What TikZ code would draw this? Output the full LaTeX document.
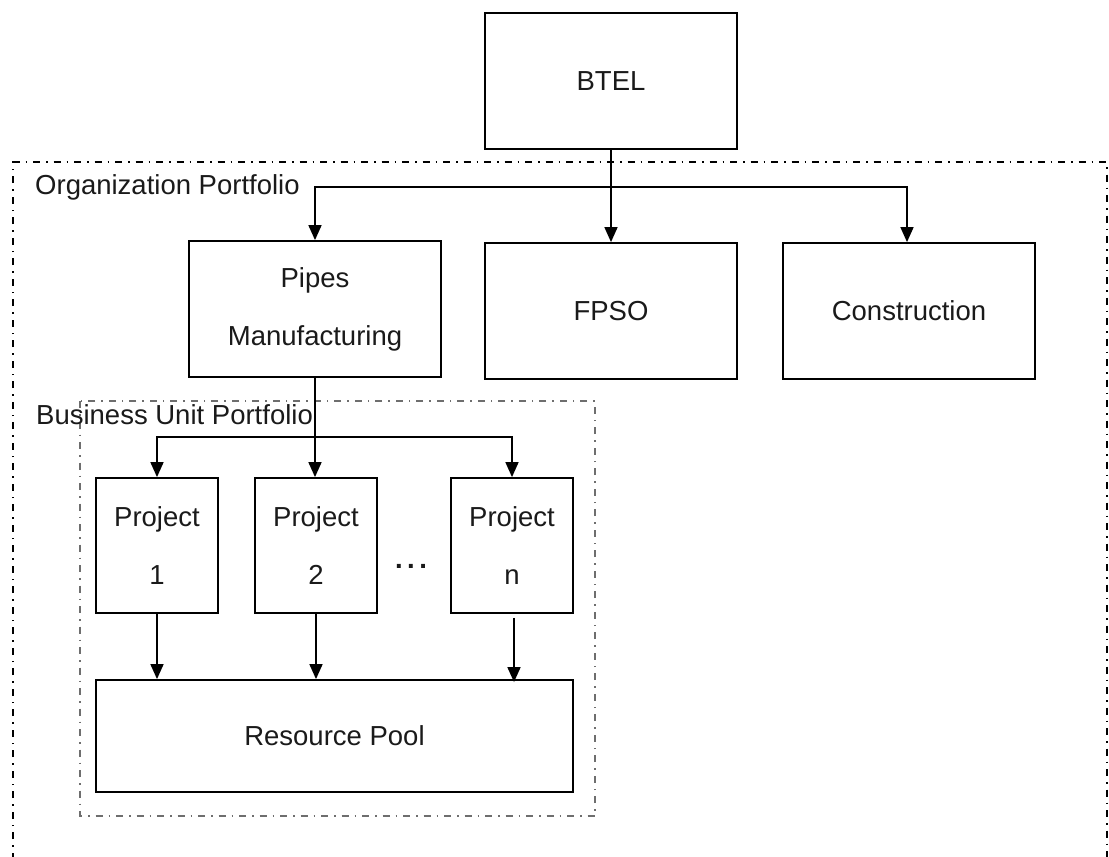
\documentclass[tikz,border=0pt]{standalone}
\usepackage{fontspec}
\setmainfont{Liberation Sans}
\usetikzlibrary{arrows.meta}
\definecolor{txt}{HTML}{1A1A1A}
\definecolor{bugray}{HTML}{6E6E6E}
\tikzset{
  box/.style={draw=black, line width=1.8pt, inner sep=0pt, align=center,
    text=txt, font=\fontsize{27.5}{58}\selectfont},
  lbl/.style={inner sep=0pt, anchor=west, text=txt, font=\fontsize{27.5}{33}\selectfont},
  arr/.style={line width=1.6pt, -{Triangle[length=15pt,width=13pt]}},
  ln/.style={line width=1.6pt},
  outerdash/.style={draw=black, line width=1.5pt, dash pattern=on 7pt off 6pt on 1.5pt off 6pt},
  innerdash/.style={draw=bugray, line width=1.5pt, dash pattern=on 7pt off 6pt on 1.5pt off 6pt}
}
\begin{document}
\begin{tikzpicture}[x=1pt,y=1pt]
\useasboundingbox (0,0) rectangle (1109,-857);
\fill[white] (0,0) rectangle (1109,-857);
% portfolios
\draw[outerdash] (13,-880) -- (13,-162) -- (1107,-162) -- (1107,-880);
\draw[innerdash] (80,-401) rectangle (595,-816);
\node[lbl] (orglbl) at (35,-187) {Organization Portfolio};
\node[lbl] (bulbl) at (36,-415) {Business Unit Portfolio};
% boxes
\node[box, minimum width=252pt, minimum height=136pt] (btel) at (611,-81) {BTEL};
\node[box, minimum width=252pt, minimum height=136pt] (pipes) at (315,-309) {Pipes\\Manufacturing};
\node[box, minimum width=252pt, minimum height=136pt] (fpso) at (611,-311) {FPSO};
\node[box, minimum width=252pt, minimum height=136pt] (cons) at (909,-311) {Construction};
\node[box, minimum width=122pt, minimum height=135pt] (p1) at (157,-545.5) {Project\\1};
\node[box, minimum width=122pt, minimum height=135pt] (p2) at (316,-545.5) {Project\\2};
\node[box, minimum width=122pt, minimum height=135pt] (pn) at (512,-545.5) {Project\\n};
\node[box, minimum width=477pt, minimum height=112pt] (rp) at (334.5,-736) {Resource Pool};
\node[inner sep=0pt, text=txt, font=\fontsize{27.5}{33}\selectfont\bfseries] (dots) at (411,-566) {.\hspace{4.5pt}.\hspace{4.5pt}.};
% connectors
\coordinate (bar) at (0,-187);
\coordinate (bar2) at (0,-437);
\draw[arr] (btel.south) -- (fpso.north);
\draw[arr] (btel.south |- bar) -| (pipes.north);
\draw[arr] (btel.south |- bar) -| ([xshift=-2pt]cons.north);
\draw[arr] (pipes.south) -- (pipes.south |- p2.north);
\draw[arr] (pipes.south |- bar2) -| (p1.north);
\draw[arr] (pipes.south |- bar2) -| (pn.north);
\draw[arr] (p1.south) -- (p1.south |- rp.north);
\draw[arr] (p2.south) -- (p2.south |- rp.north);
\draw[arr] ([xshift=2pt,yshift=-4pt]pn.south) -- ([xshift=2pt,yshift=-3pt]pn.south |- rp.north);
\end{tikzpicture}
\end{document}
